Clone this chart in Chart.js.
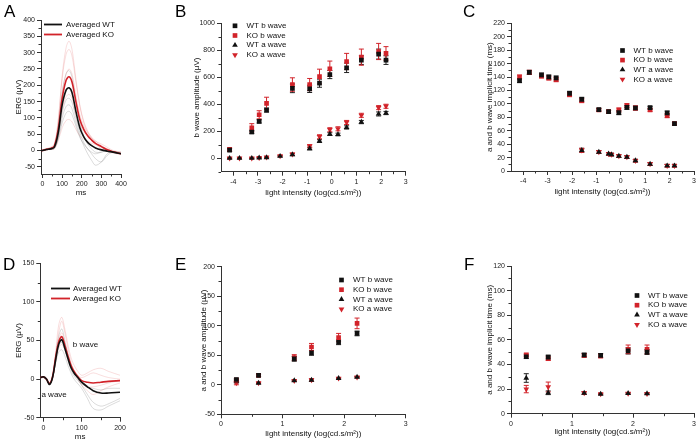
<!DOCTYPE html>
<html><head><meta charset="utf-8">
<script src="https://cdn.jsdelivr.net/npm/chart.js@4.4.1/dist/chart.umd.min.js"></script>
<style>
html,body{margin:0;padding:0;background:#fff;}
#wrap{position:relative;width:700px;height:442px;overflow:hidden;font-family:"Liberation Sans",Arial,sans-serif;background:#fff;}
canvas{position:absolute;}
.lt{position:absolute;font-size:17px;line-height:17px;color:#000;}
</style></head><body>
<div id="wrap">
<canvas id="cA"></canvas><canvas id="cB"></canvas><canvas id="cC"></canvas>
<canvas id="cD"></canvas><canvas id="cE"></canvas><canvas id="cF"></canvas>
<div class="lt" style="left:4px;top:3px">A</div>
<div class="lt" style="left:175px;top:3px">B</div>
<div class="lt" style="left:463px;top:3px">C</div>
<div class="lt" style="left:3px;top:256px">D</div>
<div class="lt" style="left:175px;top:256px">E</div>
<div class="lt" style="left:464px;top:256px">F</div>
</div>
<script>
// ---------- Panel A: ERG traces (scotopic) ----------
const aTimeMs = [-8,0,20,40,60,80,100,120,135,150,170,190,210,230,250,270,300,330,360,400];
const aAvgWT  = [0,0,3,5,10,55,140,185,192,178,120,70,42,25,15,8,2,-2,-5,-10];
const aAvgKO  = [0,0,4,6,14,65,160,215,226,210,150,95,65,45,32,22,12,2,-4,-10];
const aKO1 = [0,0,5,8,15,90,230,315,335,310,220,140,90,60,40,25,10,0,-5,-10];
const aKO2 = [0,2,6,10,20,95,220,295,310,290,210,135,85,55,35,20,5,-3,-8,-12];
const aKO3 = [0,0,3,5,10,70,175,235,250,235,170,110,75,55,40,30,15,5,-2,-8];
const aKO4 = [0,-2,2,4,8,50,125,165,172,160,115,80,60,45,35,28,20,10,0,-5];
const aKO5 = [0,0,2,3,5,30,70,92,95,88,65,45,35,28,22,18,12,5,-3,-10];
const aWT1 = [0,0,4,6,12,75,180,235,245,225,150,85,45,20,5,-5,-5,0,-5,-10];
const aWT2 = [0,0,3,5,8,45,115,155,160,148,100,55,25,5,-10,-25,-35,-15,-5,-8];
const aWT3 = [0,1,3,4,7,40,100,135,140,128,85,45,15,-10,-30,-45,-35,-10,-3,-5];
const aWT4 = [0,0,2,4,6,35,85,115,120,110,75,40,20,5,-5,-10,-5,0,-5,-10];
const aXTicks = [0,100,200,300,400];
const aXMinor = [50,150,250,350];
const aYTicks = [-50,0,50,100,150,200,250,300,350,400];
const aYMinor = [-25,25,75,125,175,225,275,325,375];

// ---------- Panel B: amplitudes vs light intensity ----------
const bX    = [-4.15,-3.75,-3.25,-2.95,-2.65,-2.1,-1.6,-0.9,-0.5,-0.08,0.25,0.6,1.2,1.9,2.2];
const bWTb  = [60,null,194,273,357,null,518,514,556,620,null,670,727,772,727];
const bKOb  = [65,null,226,322,407,null,546,546,605,663,null,717,749,791,777];
const bWTa  = [0,0,0,3,5,15,27,72,127,179,176,228,268,328,335];
const bKOa  = [0,0,0,4,7,17,30,89,159,211,218,265,318,375,385];
const bWTbErr = [10,null,12,12,15,null,32,27,30,30,null,35,32,37,32];
const bKObErr = [12,null,30,30,45,null,50,45,55,57,null,60,60,60,50];
const bWTaErr = [3,3,3,3,3,5,8,10,10,10,10,12,12,15,12];
const bKOaErr = [3,3,3,3,3,5,8,12,15,15,15,15,15,15,15];
const bXTicks = [-4,-3,-2,-1,0,1,2,3];
const bXMinor = [-3.5,-2.5,-1.5,-0.5,0.5,1.5,2.5];
const bYTicks = [0,200,400,600,800,1000];
const bYMinor = [-100,100,300,500,700,900];

// ---------- Panel C: implicit times vs light intensity ----------
const cX    = [-4.15,-3.75,-3.25,-2.95,-2.65,-2.1,-1.6,-0.9,-0.5,-0.38,-0.08,0.25,0.6,1.2,1.9,2.2];
const cWTb  = [134.6,147,143,140,138.5,115.7,106.8,91.4,88.4,null,86.9,94.8,93.8,94.3,86.4,70.5];
const cKOb  = [140,147,141.5,138.5,136,113.7,104.8,90.9,88.4,null,90.9,97.3,93.8,90.9,82.4,70.5];
const cWTa  = [null,null,null,null,null,null,30.8,28.3,25.5,24.5,22.3,20.8,15.4,10.4,7.9,7.9];
const cKOa  = [null,null,null,null,null,null,30.8,28.3,25.5,24.5,22.3,20.8,15.4,10.4,7.9,7.9];
const cBErr = [3,3,3,3,3,3,3,2,2,null,3,3,3,2,3,2];
const cAErr = [null,null,null,null,null,null,3,2,2,2,2,2,2,2,2,2];
const cXTicks = [-4,-3,-2,-1,0,1,2,3];
const cXMinor = [-3.5,-2.5,-1.5,-0.5,0.5,1.5,2.5];
const cYTicks = [0,20,40,60,80,100,120,140,160,180,200,220];
const cYMinor = [10,30,50,70,90,110,130,150,170,190,210];

// ---------- Panel D: ERG traces (photopic) ----------
const dTimeMs = [-8,0,8,16,24,32,40,48,56,64,72,80,90,100,115,130,150,170,200];
const dAvgWT  = [2,3,0,-7,2,25,45,51,40,27,15,8,2,-4,-10,-15,-18,-18,-17];
const dAvgKO  = [2,3,0,-6,3,28,48,55,44,30,18,10,3,-2,-4,-5,-4,-3,-2];
const dKO1 = [2,3,0,-7,5,35,70,80,65,45,28,18,10,5,8,12,14,10,5];
const dKO2 = [2,2,0,-6,3,30,60,75,60,40,22,12,5,2,5,8,5,2,0];
const dKO3 = [1,3,0,-5,2,22,40,45,38,25,15,8,3,-5,-10,-10,-8,-5,-2];
const dKO4 = [2,2,-1,-6,2,25,50,60,48,32,18,8,0,-8,-15,-20,-15,-10,-5];
const dWT1 = [2,3,0,-7,3,30,55,65,50,32,18,8,0,-8,-20,-30,-35,-32,-25];
const dWT2 = [2,2,0,-6,1,20,35,38,30,18,8,0,-6,-12,-25,-38,-40,-35,-28];
const dWT3 = [1,2,0,-5,2,22,42,48,38,25,12,4,-2,-6,-10,-12,-14,-12,-12];
const dXTicks = [0,100,200];
const dXMinor = [50,150];
const dYTicks = [-50,0,50,100,150];
const dYMinor = [-25,25,75,125];

// ---------- Panel E: photopic amplitudes ----------
const eX    = [0.25,0.61,1.19,1.47,1.91,2.21];
const eWTb  = [9,16,44,54,72,87];
const eKOb  = [8,16,46,64,80,104];
const eWTa  = [6,3,7,8,11,13];
const eKOa  = [3,3,7,8,11,13];
const eWTbErr = [2,2,4,4,4,4];
const eKObErr = [2,2,5,6,7,9];
const eWTaErr = [3,1,1,2,1,1];
const eKOaErr = [3,1,1,2,1,1];
const eXTicks = [0,1,2,3];
const eXMinor = [0.5,1.5,2.5];
const eYTicks = [-50,0,50,100,150,200];
const eYMinor = [-25,25,75,125,175];

// ---------- Panel F: photopic implicit times ----------
const fX    = [0.25,0.61,1.2,1.47,1.92,2.23];
const fWTb  = [46.3,46,47.7,47.4,51,50.1];
const fKOb  = [47.7,44.7,47.4,46.9,52.3,52.3];
const fWTa  = [29,17,16.8,16,16.5,16.3];
const fKOa  = [20,21.7,16.8,16,16.5,16.3];
const fWTbErr = [1.5,1.5,1.5,1.5,2.5,2];
const fKObErr = [1.5,1.5,1.5,1.5,3.5,3.5];
const fWTaErr = [3.5,1.5,1,0.5,0.5,0.5];
const fKOaErr = [3,4,1,0.5,0.5,0.5];
const fXTicks = [0,1,2,3];
const fXMinor = [0.5,1.5,2.5];
const fYTicks = [0,20,40,60,80,100,120];
const fYMinor = [10,30,50,70,90,110];

const seriesNames = ['WT b wave','KO b wave','WT a wave','KO a wave'];
const avgNames = ['Averaged WT','Averaged KO'];
const intensityTitle = 'light intensity (log(cd.s/m\u00B2))';

// ---------- styling ----------
const RED = '#d2232a';
const BLACK = '#111111';
const AXIS = '#333333';
const FONT = '"Liberation Sans", Arial, sans-serif';

// ---------- plugins ----------
const errorBarPlugin = {
  id: 'errorBars',
  beforeDatasetsDraw(chart) {
    const ctx = chart.ctx, xs = chart.scales.x, ys = chart.scales.y;
    chart.data.datasets.forEach((ds) => {
      if (!ds.errors) return;
      ctx.save();
      ctx.strokeStyle = ds.errorColor; ctx.lineWidth = 1;
      ds.data.forEach((p, j) => {
        const e = ds.errors[j];
        if (p.y == null || e == null) return;
        const px = xs.getPixelForValue(p.x);
        const y1 = ys.getPixelForValue(p.y + e), y2 = ys.getPixelForValue(p.y - e);
        ctx.beginPath();
        ctx.moveTo(px, y1); ctx.lineTo(px, y2);
        ctx.moveTo(px - 2.5, y1); ctx.lineTo(px + 2.5, y1);
        ctx.moveTo(px - 2.5, y2); ctx.lineTo(px + 2.5, y2);
        ctx.stroke();
      });
      ctx.restore();
    });
  }
};

function drawMarker(ctx, style, color, radius, rotation, x, y) {
  ctx.fillStyle = color;
  if (Chart.helpers && Chart.helpers.drawPoint) {
    Chart.helpers.drawPoint(ctx, {pointStyle: style, radius: radius, rotation: rotation, borderWidth: 0}, x, y);
  } else {
    ctx.fillRect(x - 2.5, y - 2.5, 5, 5);
  }
}

const legendPlugin = {
  id: 'panelLegend',
  afterDraw(chart, args, opts) {
    if (!opts || !opts.items) return;
    const ctx = chart.ctx;
    ctx.save();
    ctx.font = '8px ' + FONT;
    ctx.textBaseline = 'middle';
    opts.items.forEach((it, k) => {
      const y = opts.y + k * opts.rowH;
      if (it.line) {
        ctx.strokeStyle = it.color; ctx.lineWidth = 1.8;
        ctx.beginPath(); ctx.moveTo(opts.x0, y); ctx.lineTo(opts.x1, y); ctx.stroke();
      } else {
        drawMarker(ctx, it.style, it.color, 3.3, it.rotation || 0, opts.markerX, y);
      }
      ctx.fillStyle = '#111';
      ctx.fillText(it.text, opts.textX, y);
    });
    ctx.restore();
  }
};

const minorTicksPlugin = {
  id: 'minorTicks',
  afterDraw(chart, args, opts) {
    if (!opts) return;
    const ctx = chart.ctx, xs = chart.scales.x, ys = chart.scales.y, ca = chart.chartArea;
    ctx.save(); ctx.strokeStyle = AXIS; ctx.lineWidth = 1;
    (opts.x || []).forEach(v => {
      const px = Math.round(xs.getPixelForValue(v)) + 0.5;
      ctx.beginPath(); ctx.moveTo(px, ca.bottom); ctx.lineTo(px, ca.bottom + 2.5); ctx.stroke();
    });
    (opts.y || []).forEach(v => {
      const py = Math.round(ys.getPixelForValue(v)) + 0.5;
      ctx.beginPath(); ctx.moveTo(ca.left - 2.5, py); ctx.lineTo(ca.left, py); ctx.stroke();
    });
    ctx.restore();
  }
};

const notePlugin = {
  id: 'notes',
  afterDraw(chart, args, opts) {
    if (!opts || !opts.items) return;
    const ctx = chart.ctx;
    ctx.save(); ctx.font = '8px ' + FONT; ctx.fillStyle = '#111'; ctx.textBaseline = 'middle';
    opts.items.forEach(it => {
      ctx.fillText(it.text, chart.scales.x.getPixelForValue(it.x), chart.scales.y.getPixelForValue(it.y));
    });
    ctx.restore();
  }
};

// ---------- helpers ----------
function pts(xs, ys) { return xs.map((x, i) => ({x: x, y: ys[i]})); }

function scatterSets(xs, wtb, kob, wta, koa, errs) {
  return [
    {label: seriesNames[0], data: pts(xs, wtb), pointStyle: 'rect', pointRadius: 3.3, backgroundColor: BLACK, borderWidth: 0, errors: errs[0], errorColor: '#222'},
    {label: seriesNames[1], data: pts(xs, kob), pointStyle: 'rect', pointRadius: 3.3, backgroundColor: RED, borderWidth: 0, errors: errs[1], errorColor: RED},
    {label: seriesNames[2], data: pts(xs, wta), pointStyle: 'triangle', pointRadius: 3.3, backgroundColor: BLACK, borderWidth: 0, errors: errs[2], errorColor: '#222'},
    {label: seriesNames[3], data: pts(xs, koa), pointStyle: 'triangle', rotation: 180, pointRadius: 3.3, backgroundColor: RED, borderWidth: 0, errors: errs[3], errorColor: RED}
  ];
}

function traceSet(xs, ys, color, width) {
  return {data: pts(xs, ys), showLine: true, borderColor: color, borderWidth: width, pointRadius: 0, tension: 0.35, fill: false};
}

const scatterLegendItems = [
  {text: seriesNames[0], style: 'rect', color: BLACK},
  {text: seriesNames[1], style: 'rect', color: RED},
  {text: seriesNames[2], style: 'triangle', color: BLACK},
  {text: seriesNames[3], style: 'triangle', color: RED, rotation: 180}
];
const lineLegendItems = [
  {text: avgNames[0], line: true, color: BLACK},
  {text: avgNames[1], line: true, color: RED}
];

function panel(id, box, axis, xc, yc, datasets, pluginOpts) {
  const cv = document.getElementById(id);
  cv.style.left = box.l + 'px'; cv.style.top = box.t + 'px';
  cv.width = box.w; cv.height = box.h;
  const yW = axis.l - box.l;
  const xH = box.t + box.h - axis.b;
  const titleFont = {family: FONT, size: 8};
  const tickFont = {family: FONT, size: 7};
  new Chart(cv, {
    type: 'scatter',
    data: {datasets: datasets},
    options: {
      responsive: false, animation: false, devicePixelRatio: 1,
      events: [],
      layout: {padding: {left: 0, top: axis.t - box.t, right: box.l + box.w - axis.r, bottom: 0}},
      plugins: Object.assign({legend: {display: false}, tooltip: {enabled: false}}, pluginOpts),
      scales: {
        x: {
          type: 'linear', min: xc.min, max: xc.max,
          afterBuildTicks: s => { s.ticks = xc.ticks.map(v => ({value: v})); },
          afterFit: s => { s.height = xH; },
          grid: {display: true, drawOnChartArea: false, drawTicks: true, tickLength: 4, color: AXIS, tickColor: AXIS},
          border: {display: true, color: AXIS, width: 1},
          ticks: {font: tickFont, color: '#222', padding: 2, maxRotation: 0, autoSkip: false, callback: v => String(v)},
          title: {display: true, text: xc.title, font: titleFont, color: '#111', padding: {top: 0, bottom: (box.t + box.h - xc.titleY) - 4.8}}
        },
        y: {
          type: 'linear', min: yc.min, max: yc.max,
          afterBuildTicks: s => { s.ticks = yc.ticks.map(v => ({value: v})); },
          afterFit: s => { s.width = yW; },
          grid: {display: true, drawOnChartArea: false, drawTicks: true, tickLength: 4, color: AXIS, tickColor: AXIS},
          border: {display: true, color: AXIS, width: 1},
          ticks: {font: tickFont, color: '#222', padding: 2, autoSkip: false, callback: v => String(v)},
          title: {display: true, text: yc.title, font: titleFont, color: '#111', padding: {top: (yc.titleX - box.l) - 4.8, bottom: 0}}
        }
      }
    },
    plugins: [errorBarPlugin, legendPlugin, minorTicksPlugin, notePlugin]
  });
}

// ---------- build panels ----------
panel('cA', {l: 0, t: 0, w: 140, h: 205}, {l: 41, r: 121, t: 20, b: 174},
  {min: -8, max: 400, ticks: aXTicks, title: 'ms', titleY: 193},
  {min: -72, max: 400, ticks: aYTicks, title: 'ERG (\u03BCV)', titleX: 19},
  [traceSet(aTimeMs, aAvgWT, BLACK, 1.6), traceSet(aTimeMs, aAvgKO, RED, 1.6),
   traceSet(aTimeMs, aWT1, 'rgba(60,60,60,0.3)', 0.6), traceSet(aTimeMs, aWT2, 'rgba(60,60,60,0.3)', 0.6),
   traceSet(aTimeMs, aWT3, 'rgba(60,60,60,0.3)', 0.6), traceSet(aTimeMs, aWT4, 'rgba(60,60,60,0.3)', 0.6),
   traceSet(aTimeMs, aKO1, 'rgba(220,70,70,0.3)', 0.6), traceSet(aTimeMs, aKO2, 'rgba(220,70,70,0.3)', 0.6),
   traceSet(aTimeMs, aKO3, 'rgba(220,70,70,0.3)', 0.6), traceSet(aTimeMs, aKO4, 'rgba(220,70,70,0.3)', 0.6),
   traceSet(aTimeMs, aKO5, 'rgba(220,70,70,0.3)', 0.6)],
  {panelLegend: {items: lineLegendItems, x0: 44, x1: 62, textX: 66, y: 24.5, rowH: 10},
   minorTicks: {x: aXMinor, y: aYMinor}});

panel('cB', {l: 160, t: 0, w: 260, h: 205}, {l: 221, r: 405.7, t: 23.3, b: 171.7},
  {min: -4.5, max: 3, ticks: bXTicks, title: intensityTitle, titleY: 192.7},
  {min: -100, max: 1000, ticks: bYTicks, title: 'b wave amplitude (\u03BCV)', titleX: 196.7},
  scatterSets(bX, bWTb, bKOb, bWTa, bKOa, [bWTbErr, bKObErr, bWTaErr, bKOaErr]),
  {panelLegend: {items: scatterLegendItems, markerX: 75, textX: 86.5, y: 25.8, rowH: 9.7},
   minorTicks: {x: bXMinor, y: bYMinor}});

panel('cC', {l: 465, t: 0, w: 235, h: 205}, {l: 511, r: 694, t: 23.3, b: 171},
  {min: -4.5, max: 3, ticks: cXTicks, title: intensityTitle, titleY: 192},
  {min: 0, max: 220, ticks: cYTicks, title: 'a and b wave implicit time (ms)', titleX: 490},
  scatterSets(cX, cWTb, cKOb, cWTa, cKOa, [cBErr, cBErr, cAErr, cAErr]),
  {panelLegend: {items: scatterLegendItems, markerX: 157.5, textX: 168.5, y: 50.5, rowH: 9.6},
   minorTicks: {x: cXMinor, y: cYMinor}});

panel('cD', {l: 0, t: 240, w: 140, h: 202}, {l: 40.3, r: 120, t: 263.3, b: 417.7},
  {min: -8, max: 200, ticks: dXTicks, title: 'ms', titleY: 436.7},
  {min: -50, max: 150, ticks: dYTicks, title: 'ERG (\u03BCV)', titleX: 19},
  [traceSet(dTimeMs, dAvgWT, BLACK, 1.6), traceSet(dTimeMs, dAvgKO, RED, 1.6),
   traceSet(dTimeMs, dWT1, 'rgba(60,60,60,0.3)', 0.6), traceSet(dTimeMs, dWT2, 'rgba(60,60,60,0.3)', 0.6),
   traceSet(dTimeMs, dWT3, 'rgba(60,60,60,0.3)', 0.6),
   traceSet(dTimeMs, dKO1, 'rgba(220,70,70,0.3)', 0.6), traceSet(dTimeMs, dKO2, 'rgba(220,70,70,0.3)', 0.6),
   traceSet(dTimeMs, dKO3, 'rgba(220,70,70,0.3)', 0.6), traceSet(dTimeMs, dKO4, 'rgba(220,70,70,0.3)', 0.6)],
  {panelLegend: {items: lineLegendItems, x0: 51, x1: 70, textX: 73, y: 48.5, rowH: 10},
   minorTicks: {x: dXMinor, y: dYMinor},
   notes: {items: [{text: 'b wave', x: 77, y: 45}, {text: 'a wave', x: -5, y: -20}]}});

panel('cE', {l: 160, t: 240, w: 260, h: 202}, {l: 221, r: 405.7, t: 266.7, b: 414.3},
  {min: 0, max: 3, ticks: eXTicks, title: intensityTitle, titleY: 433.3},
  {min: -50, max: 200, ticks: eYTicks, title: 'a and b wave amplitude (\u03BCV)', titleX: 203.3},
  scatterSets(eX, eWTb, eKOb, eWTa, eKOa, [eWTbErr, eKObErr, eWTaErr, eKOaErr]),
  {panelLegend: {items: scatterLegendItems, markerX: 181.5, textX: 193, y: 40, rowH: 9.7},
   minorTicks: {x: eXMinor, y: eYMinor}});

panel('cF', {l: 465, t: 240, w: 235, h: 202}, {l: 511, r: 694, t: 266, b: 413.7},
  {min: 0, max: 3, ticks: fXTicks, title: intensityTitle, titleY: 431.7},
  {min: 0, max: 120, ticks: fYTicks, title: 'a and b wave implicit time (ms)', titleX: 490},
  scatterSets(fX, fWTb, fKOb, fWTa, fKOa, [fWTbErr, fKObErr, fWTaErr, fKOaErr]),
  {panelLegend: {items: scatterLegendItems, markerX: 172, textX: 183, y: 55.5, rowH: 9.7},
   minorTicks: {x: fXMinor, y: fYMinor}});
</script>
</body></html>
